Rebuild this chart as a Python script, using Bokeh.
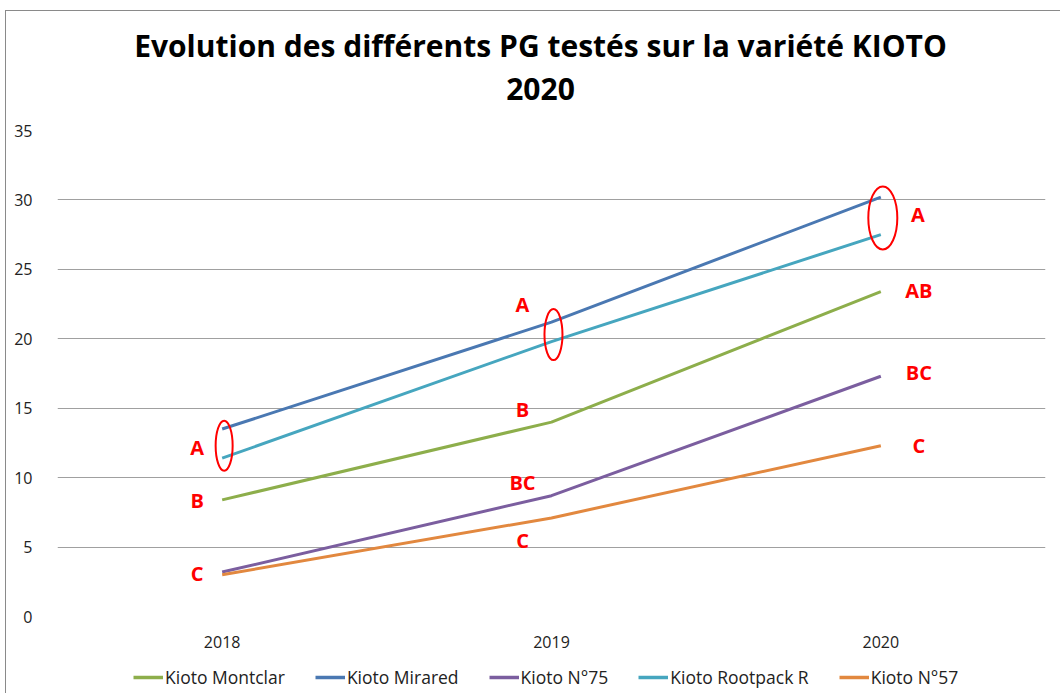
from bokeh.plotting import figure
from bokeh.layouts import column
from bokeh.models import Range1d, FixedTicker, Legend, LegendItem, ColumnDataSource
from bokeh.embed import file_html
from bokeh.resources import INLINE
from bokeh.core.properties import value

# ---- data ----
years = ["2018", "2019", "2020"]
series_names = ["Kioto Montclar", "Kioto Mirared", "Kioto N°75", "Kioto Rootpack R", "Kioto N°57"]
montclar = [8.4, 14.0, 23.4]
mirared = [13.5, 21.2, 30.2]
n75 = [3.2, 8.7, 17.3]
rootpack = [11.4, 19.8, 27.5]
n57 = [3.0, 7.1, 12.3]
colors = ["#8DAE4B", "#4A78B2", "#7B5E9F", "#46A6BF", "#E2883F"]
title_lines = ["Evolution des différents PG testés sur la variété KIOTO", "2020"]

# significance letters
letter_year = [0, 0, 0, 1, 1, 1, 1, 2, 2, 2, 2]
letter_text = ["A", "B", "C", "A", "B", "BC", "C", "A", "AB", "BC", "C"]
letter_y = [12.2, 8.35, 3.1, 22.5, 14.9, 9.65, 5.45, 28.95, 23.5, 17.6, 12.3]
letter_dx = [-25, -25, -25, -29, -29, -29, -29, 37, 38, 38, 38]

ell_year = [0, 1, 2]
ell_y = [12.3, 20.3, 28.7]
ell_w = [17, 18, 29]
ell_h = [50, 51, 63]

FONT = "Open Sans"
W = 1054
FW = 988

# ---- title strip (frame is aligned with the chart frame by the column) ----
pt = figure(width=W, height=109, output_backend="svg", toolbar_location=None,
            x_range=Range1d(0, FW), y_range=Range1d(0, 109),
            x_axis_location=None, y_axis_location=None, min_border=0)
pt.grid.grid_line_color = None
pt.outline_line_color = None
pt.text(x=[483, 483], y=[75, 32], text=title_lines, text_align="center", text_baseline="middle",
        text_font=value(FONT), text_font_size="30px", text_font_style="bold", text_color="#000000")

# ---- main chart ----
p = figure(frame_width=FW, frame_height=486, output_backend="svg", toolbar_location=None,
           x_range=Range1d(-0.5, 2.5), y_range=Range1d(0, 35),
           min_border_left=51, min_border_right=15, min_border_top=10, min_border_bottom=40)
p.outline_line_color = None

xs = list(range(len(years)))
for vals, c in zip([montclar, mirared, n75, rootpack, n57], colors):
    p.line(xs, vals, line_color=c, line_width=3)

ex = [xs[i] + 0.006 for i in ell_year]
p.ellipse(x=ex, y=ell_y, width=ell_w, height=ell_h, width_units="screen", height_units="screen",
          fill_alpha=0, line_color="#FF0000", line_width=2)

src = ColumnDataSource(dict(x=[xs[i] for i in letter_year], y=letter_y, t=letter_text, dx=letter_dx))
p.text(x="x", y="y", text="t", x_offset="dx", source=src, text_align="center", text_baseline="middle",
       text_font=value(FONT), text_font_size="20px", text_font_style="bold", text_color="#FF0000")

p.xaxis.ticker = FixedTicker(ticks=xs)
p.xaxis.major_label_overrides = {i: y for i, y in enumerate(years)}
p.xaxis.axis_line_color = None
p.xaxis.major_tick_line_color = None
p.xaxis.minor_tick_line_color = None
p.xaxis.major_label_standoff = 13
p.xaxis.major_label_text_font = FONT
p.xaxis.major_label_text_font_size = "16px"
p.xaxis.major_label_text_color = "#222222"

p.yaxis.ticker = FixedTicker(ticks=[0, 5, 10, 15, 20, 25, 30, 35])
p.yaxis.axis_line_color = None
p.yaxis.major_tick_line_color = None
p.yaxis.minor_tick_line_color = None
p.yaxis.major_label_standoff = 19
p.yaxis.major_label_text_font = FONT
p.yaxis.major_label_text_font_size = "16px"
p.yaxis.major_label_text_color = "#222222"

p.xgrid.grid_line_color = None
p.ygrid.grid_line_color = "#A0A0A0"
p.ygrid.grid_line_width = 1.2
p.ygrid.ticker = FixedTicker(ticks=[0, 5, 10, 15, 20, 25, 30, 35])

# ---- legend strip ----
pl = figure(width=W, height=37, output_backend="svg", toolbar_location=None,
            x_range=Range1d(0, 1), y_range=Range1d(0, 1),
            x_axis_location=None, y_axis_location=None, min_border=0)
pl.grid.grid_line_color = None
pl.outline_line_color = None
items = []
for n, c in zip(series_names, colors):
    # legend-only proxy line, kept outside the visible range
    r = pl.line(x=[-10, -9], y=[-10, -9], line_color=c, line_width=3.5)
    items.append(LegendItem(label=n, renderers=[r]))
legend = Legend(items=items, orientation="horizontal", location=(76, 4),
                label_text_font=FONT, label_text_font_size="17.5px", label_text_color="#222222",
                glyph_width=30, spacing=30, label_standoff=2, border_line_color=None,
                background_fill_alpha=0, padding=0, margin=0)
pl.add_layout(legend)

layout = column(pt, p, pl, spacing=0)
layout.margin = (10, 0, 0, 5)
layout.styles = {"border-left": "1px solid #8a8a8a", "border-top": "1px solid #8a8a8a"}

open("out.html", "w").write(file_html(layout, INLINE))
